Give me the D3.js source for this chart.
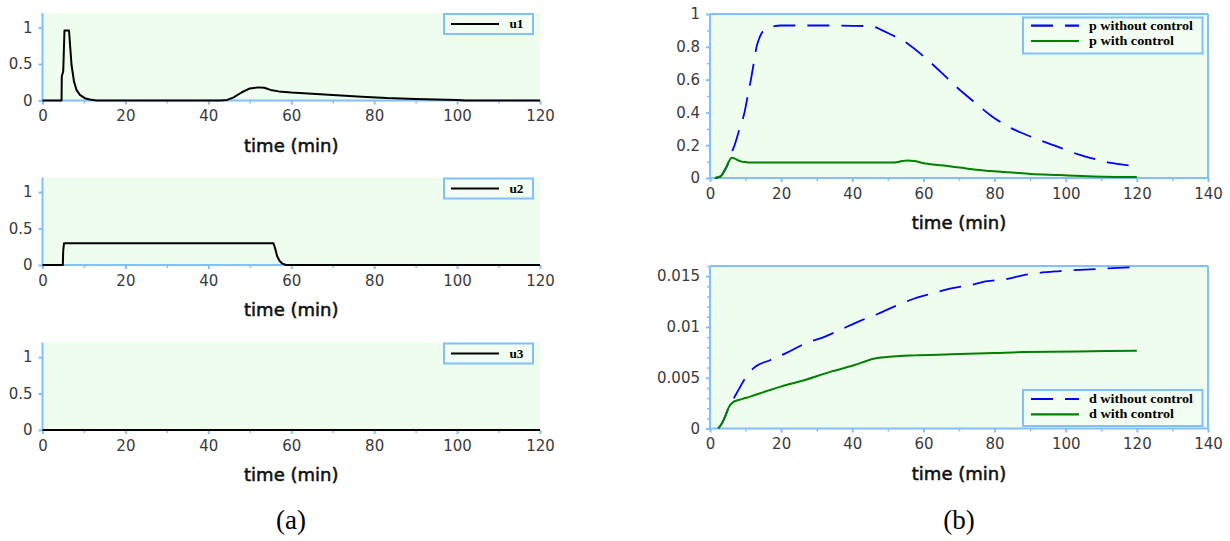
<!DOCTYPE html>
<html>
<head>
<meta charset="utf-8">
<script src="https://cdn.jsdelivr.net/npm/d3@7"></script>
<style>
  html, body { margin: 0; padding: 0; background: #ffffff; }
  svg { display: block; }
</style>
</head>
<body>
<svg id="chart" width="1230" height="541"></svg>
<script>
// ---------------- data ----------------
const u1Time = [0, 4.6, 4.65, 5.0, 5.3, 6.4, 6.65, 7.0, 7.6, 8.2, 9.0, 10.2, 11.4, 13, 43, 44.5, 46, 48, 50, 52, 53.5, 55, 57, 60, 63, 67, 72, 77, 83, 90, 95, 100, 102, 120];
const u1Vals = [0, 0, 0.33, 0.4, 0.96, 0.96, 0.76, 0.49, 0.26, 0.146, 0.078, 0.032, 0.014, 0, 0, 0.008, 0.04, 0.11, 0.165, 0.18, 0.175, 0.145, 0.125, 0.11, 0.1, 0.087, 0.07, 0.05, 0.033, 0.022, 0.015, 0.008, 0, 0];

const u2Time = [0, 4.9, 5.0, 5.2, 55.7, 56.1, 56.6, 57.2, 57.9, 58.7, 120];
const u2Vals = [0, 0, 0.2, 0.3, 0.3, 0.23, 0.12, 0.055, 0.018, 0, 0];

const u3Time = [0, 120];
const u3Vals = [0, 0];

const pNoCtrlTime = [1.4, 3, 4.5, 5.5, 6.1, 6.9, 8.3, 9.7, 10.6, 11.5, 12.3, 13.1, 14, 15.1, 17, 20, 30, 40, 44, 46, 48, 50.4, 55.5, 59.6, 64.7, 68.8, 73.9, 79, 84.1, 88.2, 93.3, 98.4, 103.5, 108.6, 112.7, 120];
const pNoCtrlVals = [0, 0.01, 0.06, 0.11, 0.154, 0.2, 0.3, 0.4, 0.5, 0.6, 0.7, 0.8, 0.86, 0.9, 0.92, 0.93, 0.93, 0.928, 0.926, 0.922, 0.905, 0.88, 0.82, 0.75, 0.65, 0.565, 0.47, 0.38, 0.31, 0.27, 0.226, 0.185, 0.144, 0.113, 0.092, 0.072];

const pCtrlTime = [1.4, 2.9, 3.5, 4.4, 5.3, 6.1, 7, 8, 9, 10, 11, 20, 40, 51.9, 54, 55.5, 57.5, 60.6, 65.7, 70.8, 74.9, 80, 85.1, 90.2, 98.4, 104.5, 110.7, 120];
const pCtrlVals = [0, 0.01, 0.025, 0.06, 0.1, 0.123, 0.118, 0.107, 0.1, 0.097, 0.095, 0.095, 0.095, 0.095, 0.103, 0.107, 0.103, 0.088, 0.076, 0.062, 0.051, 0.041, 0.033, 0.025, 0.018, 0.012, 0.008, 0.006];

const dNoCtrlTime = [2.33, 3.5, 4.5, 5.3, 6.1, 8, 9.8, 12.4, 16.7, 21.8, 26.9, 32, 37.1, 42.2, 47.3, 52.4, 57.5, 62.6, 67.8, 72.9, 78, 83.1, 88.2, 98.4, 108.6, 120];
const dNoCtrlVals = [0, 0.0006, 0.0014, 0.0021, 0.0026, 0.0038, 0.0049, 0.006, 0.0067, 0.0075, 0.0084, 0.009, 0.0098, 0.0106, 0.0113, 0.0121, 0.0128, 0.0133, 0.0138, 0.0141, 0.0145, 0.0147, 0.0151, 0.0155, 0.0157, 0.0159];

const dCtrlTime = [2.33, 3.5, 4.5, 5.3, 6.5, 8, 10, 12.6, 19.7, 26.9, 34, 40.2, 46.3, 51.4, 57.5, 67.8, 80, 88.2, 103.5, 111.7, 120];
const dCtrlVals = [0, 0.0006, 0.0014, 0.0021, 0.0026, 0.0028, 0.003, 0.0033, 0.0041, 0.0048, 0.0056, 0.0062, 0.0069, 0.0071, 0.0072, 0.0073, 0.00743, 0.00753, 0.00757, 0.00763, 0.00765];

const leftXTicks = [0, 20, 40, 60, 80, 100, 120];
const leftXMinor = [10, 30, 50, 70, 90, 110];
const leftYTicks = [0, 0.5, 1];
const rightXTicks = [0, 20, 40, 60, 80, 100, 120, 140];
const rightXMinor = [10, 30, 50, 70, 90, 110, 130];
const pYTicks = [0, 0.2, 0.4, 0.6, 0.8, 1];
const pYMinor = [0.1, 0.3, 0.5, 0.7, 0.9];
const dYTicks = [0, 0.005, 0.01, 0.015];
const dYMinor = [0.001, 0.002, 0.003, 0.004, 0.006, 0.007, 0.008, 0.009, 0.011, 0.012, 0.013, 0.014, 0.016];

const xLabel = "time (min)";
const captions = ["(a)", "(b)"];

// ---------------- style ----------------
const BG = "#effdef";
const AXIS = "#82c0fc";
const TICKTXT = "#3a3a3a";
const BLUE = "#0000ff";
const GREEN = "#008000";
const BLACK = "#000000";

const svg = d3.select("#chart");

function zip(t, v) { return t.map((d, i) => ({ t: d, v: v[i] })); }

function legendWidth(name) {
  // horizontal extent of the legend label in the reference
  return name.length <= 2 ? 14 : (name.indexOf("without") >= 0 ? 104 : 85);
}

function panel(cfg) {
  const g = svg.append("g");
  const x = d3.scaleLinear().domain(cfg.xDomain).range(cfg.xRange);
  const y = d3.scaleLinear().domain(cfg.yDomain).range([cfg.yBottom, cfg.yTop]);

  // background
  g.append("rect")
    .attr("x", cfg.xRange[0]).attr("y", cfg.yTop)
    .attr("width", cfg.xRange[1] - cfg.xRange[0])
    .attr("height", cfg.yBottom - cfg.yTop)
    .attr("fill", BG);

  // x axis
  const xAxis = d3.axisBottom(x).tickValues(cfg.xTicks).tickSize(4).tickPadding(6)
    .tickFormat(d3.format("d"));
  const xa = g.append("g").attr("transform", `translate(0,${cfg.yBottom})`).call(xAxis);
  xa.select(".domain").remove();
  xa.selectAll(".tick line").attr("stroke", AXIS).attr("stroke-width", 2);
  xa.selectAll(".tick text").attr("fill", TICKTXT)
    .style("font-family", "'DejaVu Sans', sans-serif").style("font-size", "15px");
  const xMinor = d3.axisBottom(x).tickValues(cfg.xMinor).tickSize(3).tickFormat("");
  const xm = g.append("g").attr("transform", `translate(0,${cfg.yBottom})`).call(xMinor);
  xm.select(".domain").remove();
  xm.selectAll(".tick line").attr("stroke", AXIS).attr("stroke-width", 1.5);

  // y axis
  const yAxis = d3.axisLeft(y).tickValues(cfg.yTicks).tickSize(4).tickPadding(6)
    .tickFormat(cfg.yFormat);
  const ya = g.append("g").attr("transform", `translate(${cfg.xRange[0]},0)`).call(yAxis);
  ya.select(".domain").remove();
  ya.selectAll(".tick line").attr("stroke", AXIS).attr("stroke-width", 2);
  ya.selectAll(".tick text").attr("fill", TICKTXT)
    .style("font-family", "'DejaVu Sans', sans-serif").style("font-size", "15px");
  if (cfg.yMinor) {
    const yMinorAx = d3.axisLeft(y).tickValues(cfg.yMinor).tickSize(3).tickFormat("");
    const ym = g.append("g").attr("transform", `translate(${cfg.xRange[0]},0)`).call(yMinorAx);
    ym.select(".domain").remove();
    ym.selectAll(".tick line").attr("stroke", AXIS).attr("stroke-width", 1.5);
  }

  // axis lines / border
  g.append("line").attr("x1", cfg.xRange[0]).attr("x2", cfg.xRange[1])
    .attr("y1", cfg.yBottom).attr("y2", cfg.yBottom)
    .attr("stroke", AXIS).attr("stroke-width", 2);
  g.append("line").attr("x1", cfg.xRange[0]).attr("x2", cfg.xRange[0])
    .attr("y1", cfg.yTop).attr("y2", cfg.yBottom + 1)
    .attr("stroke", AXIS).attr("stroke-width", 2);
  if (cfg.border) {
    g.append("line").attr("x1", cfg.xRange[0]).attr("x2", cfg.xRange[1])
      .attr("y1", cfg.yTop).attr("y2", cfg.yTop)
      .attr("stroke", AXIS).attr("stroke-width", 2);
    g.append("line").attr("x1", cfg.xRange[1]).attr("x2", cfg.xRange[1])
      .attr("y1", cfg.yTop).attr("y2", cfg.yBottom)
      .attr("stroke", AXIS).attr("stroke-width", 2);
  }

  // series (on top of the axis lines)
  cfg.series.forEach(s => {
    const line = d3.line().x(d => x(d.t)).y(d => y(d.v))
      .curve(s.smooth ? d3.curveMonotoneX : d3.curveLinear);
    g.append("path")
      .attr("d", line(zip(s.t, s.v)))
      .attr("fill", "none")
      .attr("stroke", s.color)
      .attr("stroke-width", s.width || 2)
      .attr("stroke-dasharray", s.dash || null)
      .attr("stroke-linejoin", "round");
  });

  // x label
  g.append("text")
    .attr("x", (cfg.xRange[0] + cfg.xRange[1]) / 2)
    .attr("y", cfg.yBottom + 51)
    .attr("text-anchor", "middle")
    .attr("fill", "#111")
    .attr("stroke", "#111")
    .attr("stroke-width", 0.55)
    .style("font-family", "'DejaVu Sans', sans-serif")
    .style("font-size", "18px")
    .text(xLabel);

  // legend
  const L = cfg.legend;
  g.append("rect").attr("x", L.x).attr("y", L.y).attr("width", L.w).attr("height", L.h)
    .attr("fill", "#f3fef3").attr("stroke", AXIS).attr("stroke-width", 2);
  cfg.series.forEach((s, i) => {
    const ry = L.rowY[i];
    g.append("line").attr("x1", L.lineX0).attr("x2", L.lineX1)
      .attr("y1", ry).attr("y2", ry)
      .attr("stroke", s.color).attr("stroke-width", 2.2)
      .attr("stroke-dasharray", s.dash || null);
    g.append("text").attr("x", L.textX).attr("y", ry + 4)
      .attr("fill", "#000")
      .attr("textLength", legendWidth(s.name))
      .attr("lengthAdjust", "spacingAndGlyphs")
      .style("font-family", "'Liberation Serif', serif")
      .style("font-weight", "bold")
      .style("font-size", "12.5px")
      .text(s.name);
  });
}

const leftX = [42.5, 540];
const rightX = [710, 1208];
const fmtPlain = d => String(d);

const leftSeries = [
  { name: "u1", t: u1Time, v: u1Vals },
  { name: "u2", t: u2Time, v: u2Vals },
  { name: "u3", t: u3Time, v: u3Vals }
];
const leftTops = [13, 177.5, 342.5];
leftSeries.forEach((s, i) => {
  const top = leftTops[i];
  const bottom = top + 87.5;
  panel({
    xDomain: [0, 120], xRange: leftX, yDomain: [0, 1.2], yTop: top, yBottom: bottom,
    xTicks: leftXTicks, xMinor: leftXMinor, yTicks: leftYTicks, yMinor: null,
    yFormat: fmtPlain, border: false,
    series: [{ name: s.name, t: s.t, v: s.v, color: BLACK, width: 2 }],
    legend: { x: 444, y: top + 1, w: 89, h: 20, rowY: [top + 11], lineX0: 451, lineX1: 499, textX: 509.5 }
  });
});

panel({
  xDomain: [0, 140], xRange: rightX, yDomain: [0, 1], yTop: 14, yBottom: 178,
  xTicks: rightXTicks, xMinor: rightXMinor, yTicks: pYTicks, yMinor: pYMinor,
  yFormat: fmtPlain, border: true,
  series: [
    { name: "p without control", t: pNoCtrlTime, v: pNoCtrlVals, color: BLUE, dash: "22,12", smooth: true, width: 1.8 },
    { name: "p with control", t: pCtrlTime, v: pCtrlVals, color: GREEN, smooth: true, width: 2 }
  ],
  legend: { x: 1023, y: 17.5, w: 179.5, h: 36, rowY: [25.7, 41], lineX0: 1031, lineX1: 1079, textX: 1089 }
});

panel({
  xDomain: [0, 140], xRange: rightX, yDomain: [0, 0.016], yTop: 266, yBottom: 428.5,
  xTicks: rightXTicks, xMinor: rightXMinor, yTicks: dYTicks, yMinor: dYMinor,
  yFormat: fmtPlain, border: true,
  series: [
    { name: "d without control", t: dNoCtrlTime, v: dNoCtrlVals, color: BLUE, dash: "22,12", smooth: true, width: 1.8 },
    { name: "d with control", t: dCtrlTime, v: dCtrlVals, color: GREEN, smooth: true, width: 2 }
  ],
  legend: { x: 1023, y: 390, w: 179.5, h: 36, rowY: [399, 414.3], lineX0: 1031, lineX1: 1079, textX: 1089 }
});

// captions
[[291, captions[0]], [959, captions[1]]].forEach(([cx, txt]) => {
  svg.append("text").attr("x", cx).attr("y", 529)
    .attr("text-anchor", "middle").attr("fill", "#000")
    .style("font-family", "'Liberation Serif', serif")
    .style("font-size", "27px")
    .text(txt);
});
</script>
</body>
</html>
